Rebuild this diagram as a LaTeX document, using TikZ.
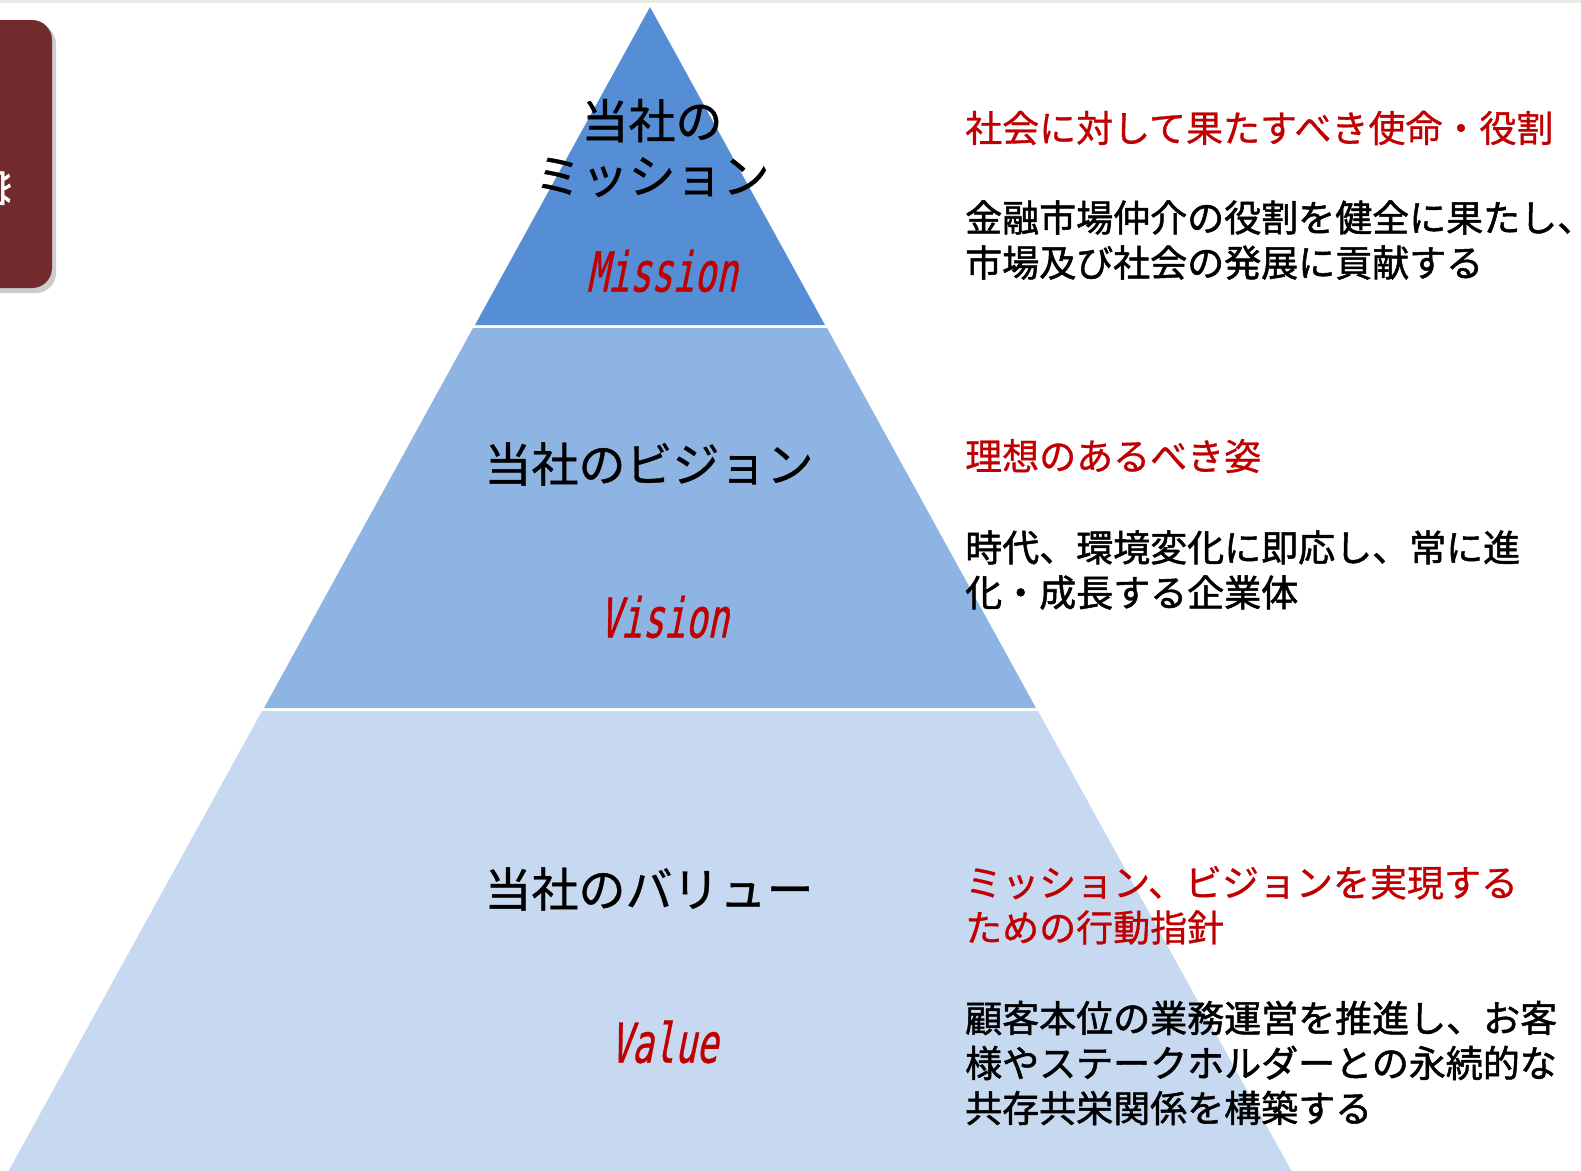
\documentclass[tikz,border=0pt]{standalone}
\usepackage{fontspec}
\setmainfont{Noto Sans CJK JP}
\newfontfamily\jpheavy[FakeBold=1.4]{Noto Sans CJK JP}
\newfontfamily\jpmid[FakeBold=0.8]{Noto Sans CJK JP}
\newfontfamily\latn[FakeSlant=0.2,FakeStretch=0.65,FakeBold=0.6]{DejaVu Sans Mono}
\definecolor{missionblue}{HTML}{558ED5}
\definecolor{visionblue}{HTML}{8EB4E3}
\definecolor{valueblue}{HTML}{C6D9F1}
\definecolor{headred}{HTML}{C00000}
\definecolor{tabred}{HTML}{722A2C}
\definecolor{topstrip}{HTML}{E6ECE2}

\begin{document}
\begin{tikzpicture}[x=1pt, y=-1pt,
    tier/.style={inner sep=0pt, align=center, font=\jpmid\fontsize{47}{55}\selectfont},
    tiername/.style={inner sep=0pt, text=headred, font=\latn\fontsize{55}{55}\selectfont},
    headline/.style={inner sep=0pt, anchor=west, align=left, text=headred, font=\jpmid\fontsize{37}{45}\selectfont},
    bodytext/.style={inner sep=0pt, anchor=west, align=left, font=\jpheavy\fontsize{37}{45}\selectfont}]
        \useasboundingbox (0, 0) rectangle (1581, 1170);
        \fill[white] (0, 0) rectangle (1581, 1170);

        % Strip at the top
        \fill[topstrip] (0, 0) rectangle (1581, 3);

        % Tab on the left
        \fill[black!20, rounded corners=20pt] (-30, 24) rectangle (56, 293);
        \fill[tabred, rounded corners=20pt] (-30, 20) rectangle (52, 288);
        \begin{scope}
            \clip (0, 20) rectangle (52, 288);
            \node[text=white, rotate=-90, font=\jpheavy\fontsize{40}{40}\selectfont] (tabtext) at (-8, 188) {営};
        \end{scope}

        % Pyramid tiers
        \fill[missionblue] (650, 7) -- (825, 325) -- (475, 325) -- cycle;
        \fill[visionblue] (473, 328) -- (827, 328) -- (1036, 708) -- (264, 708) -- cycle;
        \fill[valueblue] (262, 711) -- (1038, 711) -- (1292, 1172) -- (8, 1172) -- cycle;

        % Tier labels
        \node[tier] (mission) at (652, 148) {当社の\\ミッション};
        \node[tiername] (missionen) at (662, 271) {Mission};
        \node[tier] (vision) at (649, 464) {当社のビジョン};
        \node[tiername] (visionen) at (664, 617) {Vision};
        \node[tier] (value) at (649, 889) {当社のバリュー};
        \node[tiername] (valueen) at (664, 1042) {Value};

        % Texts on the right
        \node[headline] (missionhead) at (965, 128) {社会に対して果たすべき使命・役割};
        \node[bodytext] (missionbody) at (965, 240) {金融市場仲介の役割を健全に果たし、\\市場及び社会の発展に貢献する};
        \node[headline] (visionhead) at (965, 456) {理想のあるべき姿};
        \node[bodytext] (visionbody) at (965, 570) {時代、環境変化に即応し、常に進\\化・成長する企業体};
        \node[headline] (valuehead) at (965, 905) {ミッション、ビジョンを実現する\\ための行動指針};
        \node[bodytext] (valuebody) at (965, 1063) {顧客本位の業務運営を推進し、お客\\様やステークホルダーとの永続的な\\共存共栄関係を構築する};
    \end{tikzpicture}
\end{document}
